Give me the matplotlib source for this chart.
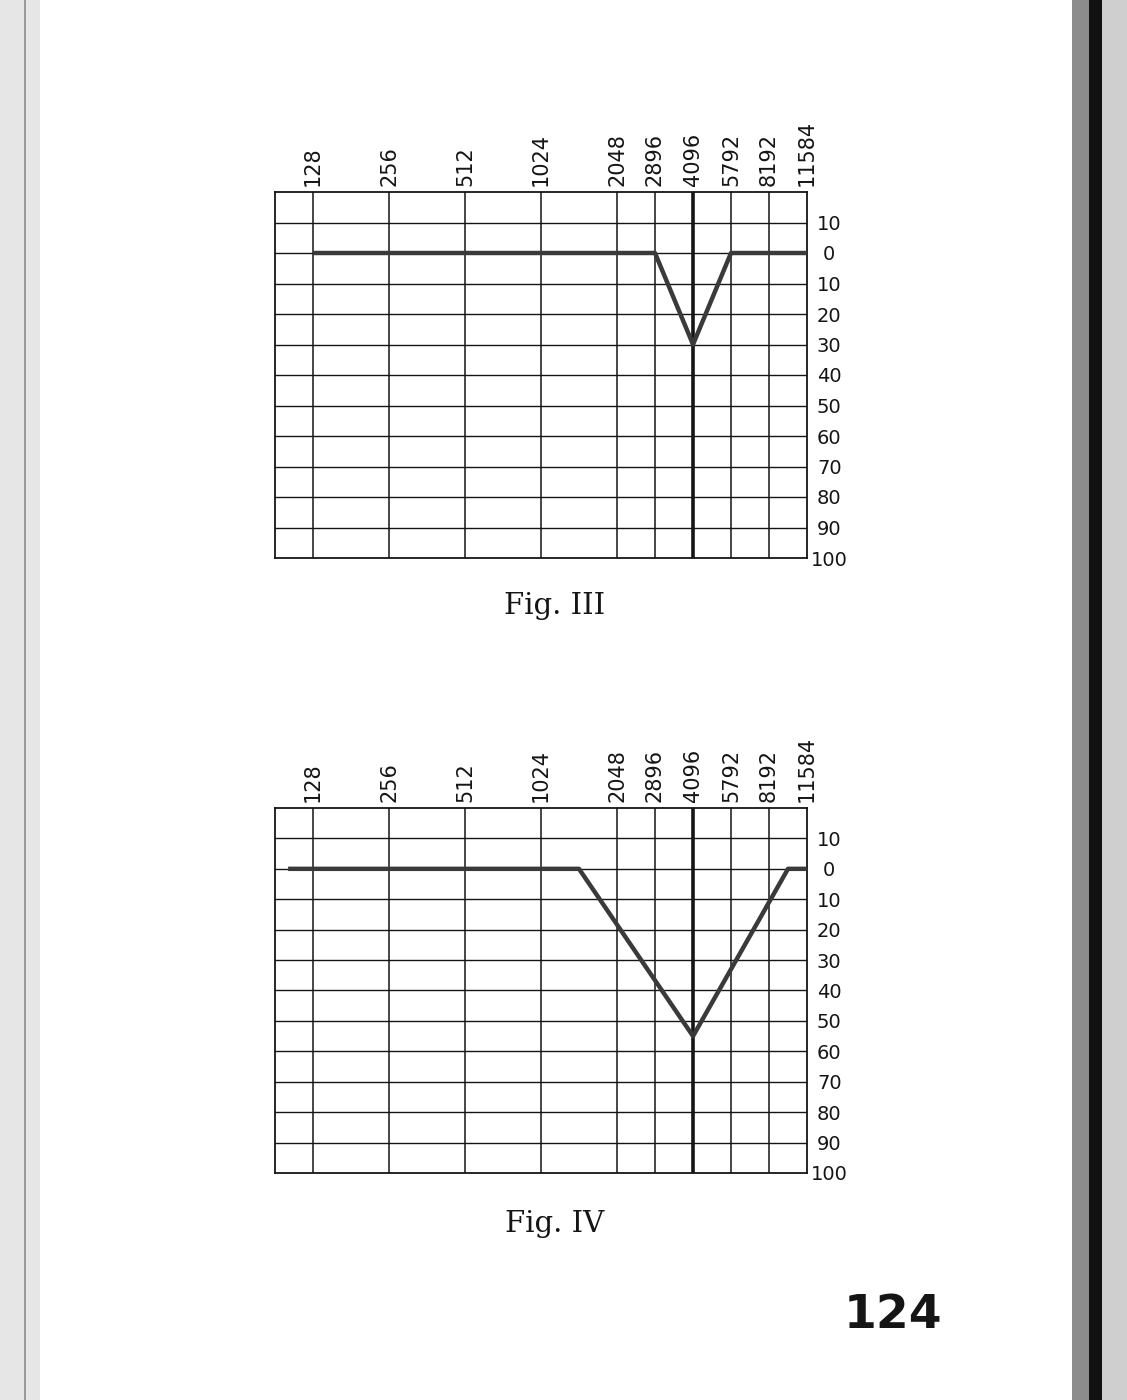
import matplotlib.pyplot as plt
from matplotlib.patches import Rectangle

FREQS = [128, 256, 512, 1024, 2048, 2896, 4096, 5792, 8192, 11584]
FREQ_LABELS = ["128", "256", "512", "1024", "2048", "2896", "4096", "5792", "8192", "11584"]
DB_LINES = [-10, 0, 10, 20, 30, 40, 50, 60, 70, 80, 90]
DB_TICKS = [-10, 0, 10, 20, 30, 40, 50, 60, 70, 80, 90, 100]
DB_LABELS = ["10", "0", "10", "20", "30", "40", "50", "60", "70", "80", "90", "100"]

# Fig. III: notch at 4096
FIG3_FREQ = [128, 2896, 4096, 5792, 11584]
FIG3_DB = [0, 0, 30, 0, 0]

# Fig. IV: wider, deeper dip
FIG4_FREQ = [102, 1448, 4096, 9742, 11584]
FIG4_DB = [0, 0, 55, 0, 0]

FIG_W, FIG_H = 1127, 1400
INK = "#151515"
CURVE = "#3a3a3a"


def draw_audiogram(ax, curve_freq, curve_db):
    ax.set_xscale("log", base=2)
    ax.set_xlim(128 / 2 ** 0.5, 11584)
    ax.set_ylim(100, -20)

    for f in FREQS[:-1]:
        lw = 2.6 if f == 4096 else 1.1
        ax.axvline(f, color=INK, linewidth=lw, zorder=1)
    for d in DB_LINES:
        ax.axhline(d, color=INK, linewidth=1.0, zorder=1)

    ax.plot(curve_freq, curve_db, color=CURVE, linewidth=3.2,
            solid_capstyle="butt", zorder=3)

    ax.set_xticks(FREQS)
    ax.set_xticklabels(FREQ_LABELS, rotation=90)
    ax.xaxis.set_minor_locator(plt.NullLocator())
    ax.set_yticks(DB_TICKS)
    ax.set_yticklabels(DB_LABELS)
    ax.tick_params(axis="x", top=True, bottom=False, labeltop=True,
                   labelbottom=False, length=0, pad=4, labelsize=15,
                   colors=INK)
    ax.tick_params(axis="y", left=False, right=True, labelleft=False,
                   labelright=True, length=0, pad=16, labelsize=14,
                   colors=INK)
    for lab in ax.get_yticklabels():
        lab.set_horizontalalignment("center")
    for side in ax.spines.values():
        side.set_color(INK)
        side.set_linewidth(1.3)


fig = plt.figure(figsize=(FIG_W / 100, FIG_H / 100), dpi=100)
fig.patch.set_facecolor("white")

# scanned page edges
fig.add_artist(Rectangle((0, 0), 40 / FIG_W, 1, transform=fig.transFigure,
                         facecolor="#e6e6e6", edgecolor="none", zorder=0))
fig.add_artist(Rectangle((24 / FIG_W, 0), 2 / FIG_W, 1, transform=fig.transFigure,
                         facecolor="#9a9a9a", edgecolor="none", zorder=0))
fig.add_artist(Rectangle((1072 / FIG_W, 0), 17 / FIG_W, 1, transform=fig.transFigure,
                         facecolor="#8c8c8c", edgecolor="none", zorder=0))
fig.add_artist(Rectangle((1089 / FIG_W, 0), 13 / FIG_W, 1, transform=fig.transFigure,
                         facecolor="#111111", edgecolor="none", zorder=0))
fig.add_artist(Rectangle((1102 / FIG_W, 0), 25 / FIG_W, 1, transform=fig.transFigure,
                         facecolor="#cfcfcf", edgecolor="none", zorder=0))

left = 275 / FIG_W
width = 532 / FIG_W
ax3 = fig.add_axes([left, 1 - 558 / FIG_H, width, 366 / FIG_H])
ax4 = fig.add_axes([left, 1 - 1173 / FIG_H, width, 365 / FIG_H])

draw_audiogram(ax3, FIG3_FREQ, FIG3_DB)
draw_audiogram(ax4, FIG4_FREQ, FIG4_DB)

fig.text(555 / FIG_W, 1 - 606 / FIG_H, "Fig. III", ha="center", va="center",
         fontsize=21, family="DejaVu Serif", color=INK)
fig.text(555 / FIG_W, 1 - 1224 / FIG_H, "Fig. IV", ha="center", va="center",
         fontsize=21, family="DejaVu Serif", color=INK)
fig.text(893 / FIG_W, 1 - 1316 / FIG_H, "124", ha="center", va="center",
         fontsize=34, fontweight="bold", color=INK)

fig.savefig("out.png", dpi=100, facecolor="white")
